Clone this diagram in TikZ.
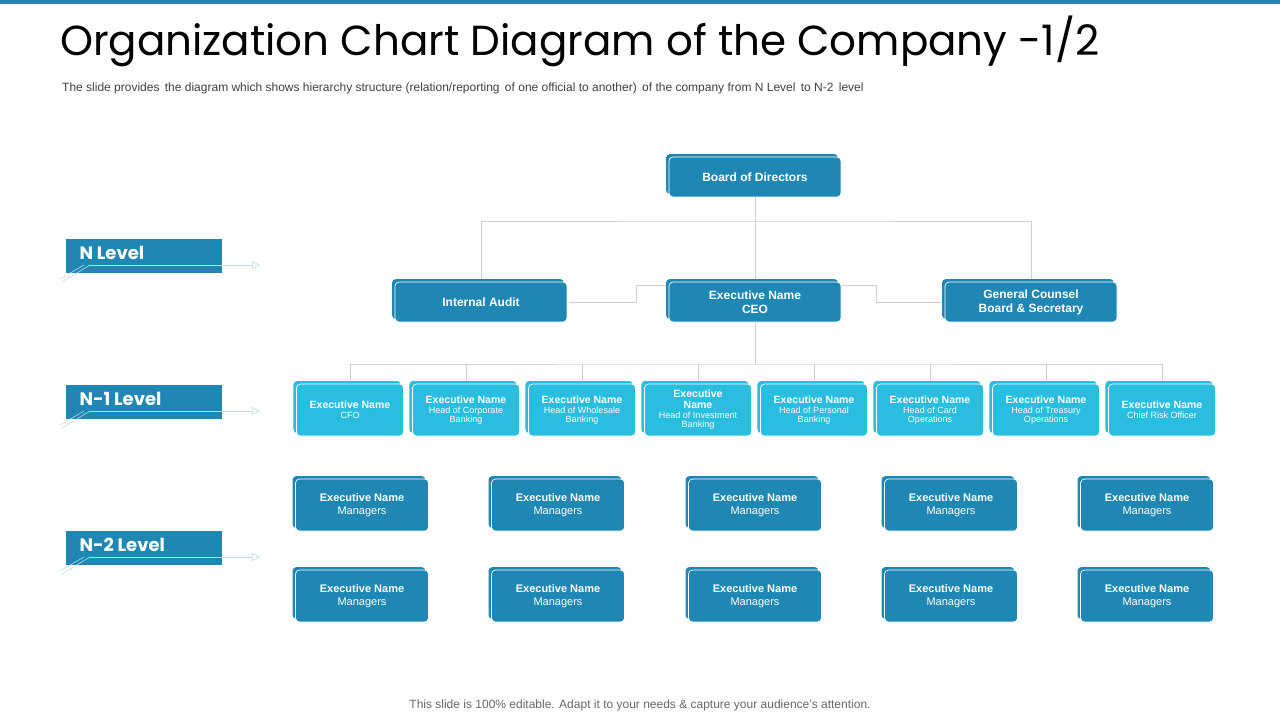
\documentclass[tikz,border=0pt]{standalone}
\usepackage{fontspec}
\setmainfont{Liberation Sans}
\newfontfamily\titlefont{Poppins}
\usetikzlibrary{shadows,arrows.meta}
\definecolor{boxblue}{HTML}{1F87B3}
\definecolor{boxcyan}{HTML}{29BEDF}
\definecolor{linegray}{HTML}{D0D0D0}
\definecolor{txtgray}{HTML}{404040}
\newcommand{\subtxt}{\fontsize{9}{10}\selectfont\mdseries}
\tikzset{
  box/.style={rounded corners=4pt, draw=white, line width=0.7pt, fill=boxblue, text=white,
    align=center, inner sep=0pt, font=\fontsize{12}{14}\selectfont\bfseries,
    general shadow={fill=boxblue, draw=none, shadow xshift=-3pt, shadow yshift=3pt}},
  topbox/.style={box, minimum width=172pt, minimum height=40pt},
  headbox/.style={box, fill=boxcyan, minimum width=107pt, minimum height=52pt,
    font=\fontsize{10.5}{11}\selectfont\bfseries,
    general shadow={fill=boxcyan, draw=none, shadow xshift=-3pt, shadow yshift=3pt}},
  mgrbox/.style={box, minimum width=133pt, minimum height=52pt, font=\fontsize{11}{13}\selectfont\bfseries},
  link/.style={linegray, line width=0.8pt},
  lvl/.style={fill=boxblue, minimum width=156pt, minimum height=34pt, inner sep=0pt},
  lvltext/.style={text=white, font=\titlefont\fontsize{18}{20}\selectfont\bfseries, anchor=west}
}
\newcommand{\levelmark}[3]{%
  \node[lvl, anchor=north west] (#1) at (66,#2) {};
  \node[lvltext] at (76,#2+14) {#3};
  \draw[white!70!boxblue, line width=0.6pt, -{Triangle[open,length=8pt,width=8pt]}]
    (90,#2+26) -- (260,#2+26);
  \draw[white!70!boxblue, line width=0.6pt] (90,#2+26) -- (62,#2+43) (84,#2+26) -- (60,#2+40);
}
\begin{document}
\begin{tikzpicture}[x=1pt,y=-1pt]
\useasboundingbox (0,0) rectangle (1280,720);
\fill[boxblue] (0,0) rectangle (1280,4);

% title
\node[anchor=base west, inner sep=0pt, font=\titlefont\fontsize{42}{46}\selectfont] (title) at (60,55) {Organization Chart Diagram of the Company -1/2};
\node[anchor=base west, inner sep=0pt, text=txtgray, font=\fontsize{12}{14}\selectfont] (subtitle) at (62,91)
  {The slide provides\, the diagram which shows hierarchy structure (relation/reporting\, of one official to another)\, of the company from N Level\, to N-2\, level};

% levels
\levelmark{nlevel}{239}{N Level}
\levelmark{n1level}{385}{N-1 Level}
\levelmark{n2level}{531}{N-2 Level}

% connectors
\draw[link] (755,197) -- (755,281);
\draw[link] (481,281) |- (755,221) -| (1031,281);
\draw[link] (569,302) -- (636,302) |- (668,285);
\draw[link] (842,285) -- (876,285) |- (944,302);
\draw[link] (755,322) -- (755,364);
\draw[link] (350,384) |- (755,364) -| (1162,384);
\foreach \x in {466,582,698,814,930,1046}
  \draw[link] (\x,364) -- (\x,384);

% top levels
\node[topbox] (board) at (755,177) {Board of Directors};
\node[topbox] (audit) at (481,302) {Internal Audit};
\node[topbox] (ceo) at (755,302) {Executive Name\\CEO};
\node[topbox] (counsel) at (1031,302) {General Counsel\\Board \& Secretary};

% N-1 heads
\node[headbox] (cfo) at (350,410) {Executive Name\\[-1pt]{\subtxt CFO}};
\node[headbox] (corp) at (466,410) {Executive Name\\[-1pt]{\subtxt Head of Corporate}\\[-2pt]{\subtxt Banking}};
\node[headbox] (whole) at (582,410) {Executive Name\\[-1pt]{\subtxt Head of Wholesale}\\[-2pt]{\subtxt Banking}};
\node[headbox] (invest) at (698,410) {Executive\\Name\\[-1pt]{\subtxt Head of Investment}\\[-2pt]{\subtxt Banking}};
\node[headbox] (pers) at (814,410) {Executive Name\\[-1pt]{\subtxt Head of Personal}\\[-2pt]{\subtxt Banking}};
\node[headbox] (card) at (930,410) {Executive Name\\[-1pt]{\subtxt Head of Card}\\[-2pt]{\subtxt Operations}};
\node[headbox] (treas) at (1046,410) {Executive Name\\[-1pt]{\subtxt Head of Treasury}\\[-2pt]{\subtxt Operations}};
\node[headbox] (risk) at (1162,410) {Executive Name\\[-1pt]{\subtxt Chief Risk Officer}};

% N-2 managers
\foreach \x [count=\i] in {362,558,755,951,1147} {
  \node[mgrbox] (mgrA\i) at (\x,505) {Executive Name\\{\mdseries Managers}};
  \node[mgrbox] (mgrB\i) at (\x,596) {Executive Name\\{\mdseries Managers}};
}

\node[text=txtgray!80, font=\fontsize{12}{14}\selectfont] (footer) at (640,705)
  {This slide is 100\% editable. Adapt it to your needs \& capture your audience’s attention.};
\end{tikzpicture}
\end{document}
